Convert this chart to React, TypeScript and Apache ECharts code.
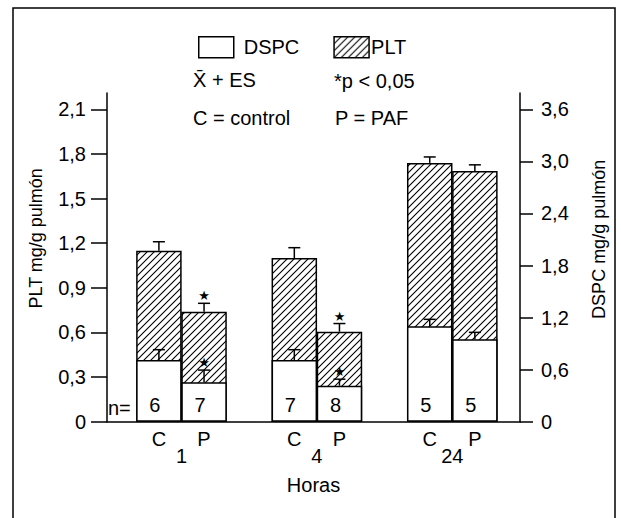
import React, { useEffect, useRef } from 'react';
import * as echarts from 'echarts';

// ---- data ----
const categories = ['C', 'P', 'C', 'P', 'C', 'P'];
const barSlots = [1, 2, 4, 5, 7, 8];
const hourLabels = ['1', '4', '24'];
const hourSlots = [1.5, 4.5, 7.5];
const pltMeans = [1.15, 0.74, 1.1, 0.605, 1.74, 1.685];
const pltErrors = [0.06, 0.056, 0.07, 0.055, 0.04, 0.042];
const dspcMeans = [0.71, 0.455, 0.71, 0.415, 1.1, 0.95];
const dspcErrors = [0.12, 0.14, 0.12, 0.075, 0.08, 0.08];
const pltSignificant = [0, 1, 0, 1, 0, 0];
const dspcSignificant = [0, 1, 0, 1, 0, 0];
const nCounts = [6, 7, 7, 8, 5, 5];
const leftTicks = [0, 0.3, 0.6, 0.9, 1.2, 1.5, 1.8, 2.1];
const rightTicks = [0, 0.6, 1.2, 1.8, 2.4, 3.0, 3.6];

const FONT = 'Liberation Sans, Arial, sans-serif';
const fmtTick = (v: number) => (v === 0 ? '0' : v.toFixed(1).replace('.', ','));

function makeHatch() {
  const c = document.createElement('canvas');
  const s = 7;
  c.width = s;
  c.height = s;
  const ctx = c.getContext('2d')!;
  ctx.fillStyle = '#fff';
  ctx.fillRect(0, 0, s, s);
  ctx.strokeStyle = '#000';
  ctx.lineWidth = 1.1;
  ctx.beginPath();
  ctx.moveTo(-1, s + 1);
  ctx.lineTo(s + 1, -1);
  ctx.moveTo(-2, 2);
  ctx.lineTo(2, -2);
  ctx.moveTo(s - 2, s + 2);
  ctx.lineTo(s + 2, s - 2);
  ctx.stroke();
  return c;
}

const errRender = (params: any, api: any) => {
  const x = api.value(0);
  const y = api.value(1);
  const e = api.value(2);
  const sig = api.value(3);
  const p0 = api.coord([x, y]);
  const p1 = api.coord([x, y + e]);
  const st = { stroke: '#000', lineWidth: 1.5 };
  const children: any[] = [
    { type: 'line', shape: { x1: p0[0], y1: p0[1], x2: p1[0], y2: p1[1] }, style: st },
    { type: 'line', shape: { x1: p1[0] - 6, y1: p1[1], x2: p1[0] + 6, y2: p1[1] }, style: st },
  ];
  if (sig) {
    children.push({
      type: 'text',
      x: p1[0],
      y: p1[1] - 1,
      style: {
        text: '★',
        fontSize: 13,
        fill: '#000',
        align: 'center',
        verticalAlign: 'bottom',
        fontFamily: 'DejaVu Sans',
      },
    });
  }
  return { type: 'group', children };
};

export default function App() {
  const ref = useRef<HTMLDivElement>(null);
  useEffect(() => {
    if (!ref.current) return;
    const chart = echarts.init(ref.current, undefined, { renderer: 'svg' });
    const hatch = { image: makeHatch(), repeat: 'repeat', imageWidth: 7, imageHeight: 7 } as any;
    const leftMax = 2.21;
    const rightMax = (leftMax * 3.6) / 2.1;
    const xMin = -0.15;
    const xMax = 9;
    const axisColor = '#000';

    chart.setOption({
      animation: false,
      backgroundColor: '#fff',
      textStyle: { fontFamily: FONT, color: '#000' },
      grid: { left: 107, right: 101, top: 93, bottom: 96.3, containLabel: false },
      legend: {
        left: 193,
        top: 31,
        itemWidth: 35,
        itemHeight: 21,
        itemGap: 34,
        icon: 'rect',
        itemStyle: { borderColor: '#000', borderWidth: 1.5 },
        textStyle: { fontSize: 20, color: '#000', fontFamily: FONT },
        data: [
          { name: 'DSPC', textStyle: { padding: [0, 0, 0, 5] } },
          { name: 'PLT', textStyle: { padding: [0, 0, 0, -3] } },
        ],
        selectedMode: false,
      },
      xAxis: [
        {
          type: 'value',
          min: xMin,
          max: xMax,
          position: 'bottom',
          axisLine: { show: true, onZero: false, lineStyle: { color: axisColor, width: 1.5 } },
          axisTick: { show: false },
          splitLine: { show: false },
          axisLabel: {
            customValues: barSlots,
            formatter: (v: number) => categories[barSlots.indexOf(v)] ?? '',
            fontSize: 20,
            color: '#000',
            margin: 7,
          },
        },
        {
          type: 'value',
          min: xMin,
          max: xMax,
          position: 'bottom',
          axisLine: { show: false, onZero: false },
          axisTick: { show: false },
          splitLine: { show: false },
          axisLabel: {
            customValues: hourSlots,
            formatter: (v: number) => hourLabels[hourSlots.indexOf(v)] ?? '',
            fontSize: 20,
            color: '#000',
            margin: 24,
          },
          name: 'Horas',
          nameLocation: 'middle',
          nameGap: 53,
          nameTextStyle: { fontSize: 20, color: '#000', fontFamily: FONT },
        },
      ],
      yAxis: [
        {
          type: 'value',
          min: 0,
          max: leftMax,
          position: 'left',
          axisLine: { show: true, onZero: false, lineStyle: { color: axisColor, width: 1.5 } },
          axisTick: {
            show: true,
            inside: false,
            length: 16,
            customValues: leftTicks,
            lineStyle: { color: axisColor, width: 1.5 },
          },
          axisLabel: {
            customValues: leftTicks,
            formatter: fmtTick,
            fontSize: 20,
            color: '#000',
            margin: 21,
          },
          splitLine: { show: false },
          name: 'PLT mg/g pulmón',
          nameLocation: 'middle',
          nameGap: 62,
          nameTextStyle: { fontSize: 18, color: '#000', fontFamily: FONT, padding: [0, 0, 0, 38] },
        },
        {
          type: 'value',
          min: 0,
          max: rightMax,
          position: 'right',
          axisLine: { show: true, onZero: false, lineStyle: { color: axisColor, width: 1.5 } },
          axisTick: {
            show: true,
            inside: false,
            length: 13,
            customValues: rightTicks,
            lineStyle: { color: axisColor, width: 1.5 },
          },
          axisLabel: {
            customValues: rightTicks,
            formatter: fmtTick,
            fontSize: 20,
            color: '#000',
            margin: 21,
          },
          splitLine: { show: false },
          name: 'DSPC mg/g pulmón',
          nameLocation: 'middle',
          nameGap: 70,
          nameTextStyle: { fontSize: 18, color: '#000', fontFamily: FONT, padding: [0, 0, 0, 36] },
        },
      ],
      graphic: [
        {
          type: 'rect',
          shape: { x: 13, y: 8, width: 602, height: 530 },
          style: { fill: 'none', stroke: '#000', lineWidth: 1.5 },
          silent: true,
        },
        {
          type: 'text',
          x: 193,
          y: 80,
          style: { text: 'X\u0304 + ES', fontSize: 20, fill: '#000', fontFamily: FONT, verticalAlign: 'middle' },
        },
        {
          type: 'text',
          x: 334,
          y: 81,
          style: { text: '*p < 0,05', fontSize: 20, fill: '#000', fontFamily: FONT, verticalAlign: 'middle' },
        },
        {
          type: 'text',
          x: 193,
          y: 118,
          style: { text: 'C = control', fontSize: 20, fill: '#000', fontFamily: FONT, verticalAlign: 'middle' },
        },
        {
          type: 'text',
          x: 335,
          y: 118,
          style: { text: 'P = PAF', fontSize: 20, fill: '#000', fontFamily: FONT, verticalAlign: 'middle' },
        },
        {
          type: 'text',
          x: 108,
          y: 408,
          style: { text: 'n=', fontSize: 20, fill: '#000', fontFamily: FONT, verticalAlign: 'middle' },
        },
      ],
      series: [
        {
          name: 'PLT',
          type: 'bar',
          xAxisIndex: 0,
          yAxisIndex: 0,
          barWidth: 45.5,
          barGap: '-100%',
          itemStyle: { color: hatch, borderColor: '#000', borderWidth: 1.5 },
          data: barSlots.map((x, i) => [x, pltMeans[i]]),
          z: 2,
        },
        {
          name: 'DSPC',
          type: 'bar',
          xAxisIndex: 0,
          yAxisIndex: 1,
          barWidth: 45.5,
          barGap: '-100%',
          itemStyle: { color: '#fff', borderColor: '#000', borderWidth: 1.5 },
          label: {
            show: true,
            position: 'insideBottom',
            distance: 7,
            offset: [-4, 0],
            fontSize: 20,
            color: '#000',
            fontFamily: FONT,
            formatter: (p: any) => String(nCounts[p.dataIndex]),
          },
          data: barSlots.map((x, i) => [x, dspcMeans[i]]),
          z: 3,
        },
        {
          name: 'PLT error',
          type: 'custom',
          xAxisIndex: 0,
          yAxisIndex: 0,
          renderItem: errRender,
          clip: false,
          data: barSlots.map((x, i) => [x, pltMeans[i], pltErrors[i], pltSignificant[i]]),
          z: 5,
        },
        {
          name: 'DSPC error',
          type: 'custom',
          xAxisIndex: 0,
          yAxisIndex: 1,
          renderItem: errRender,
          clip: false,
          data: barSlots.map((x, i) => [x, dspcMeans[i], dspcErrors[i], dspcSignificant[i]]),
          z: 5,
        },
      ],
    });
    return () => chart.dispose();
  }, []);
  return (
    <div
      ref={ref}
      style={{ position: 'fixed', left: 0, top: 0, width: 621, height: 518, background: '#fff' }}
    />
  );
}
